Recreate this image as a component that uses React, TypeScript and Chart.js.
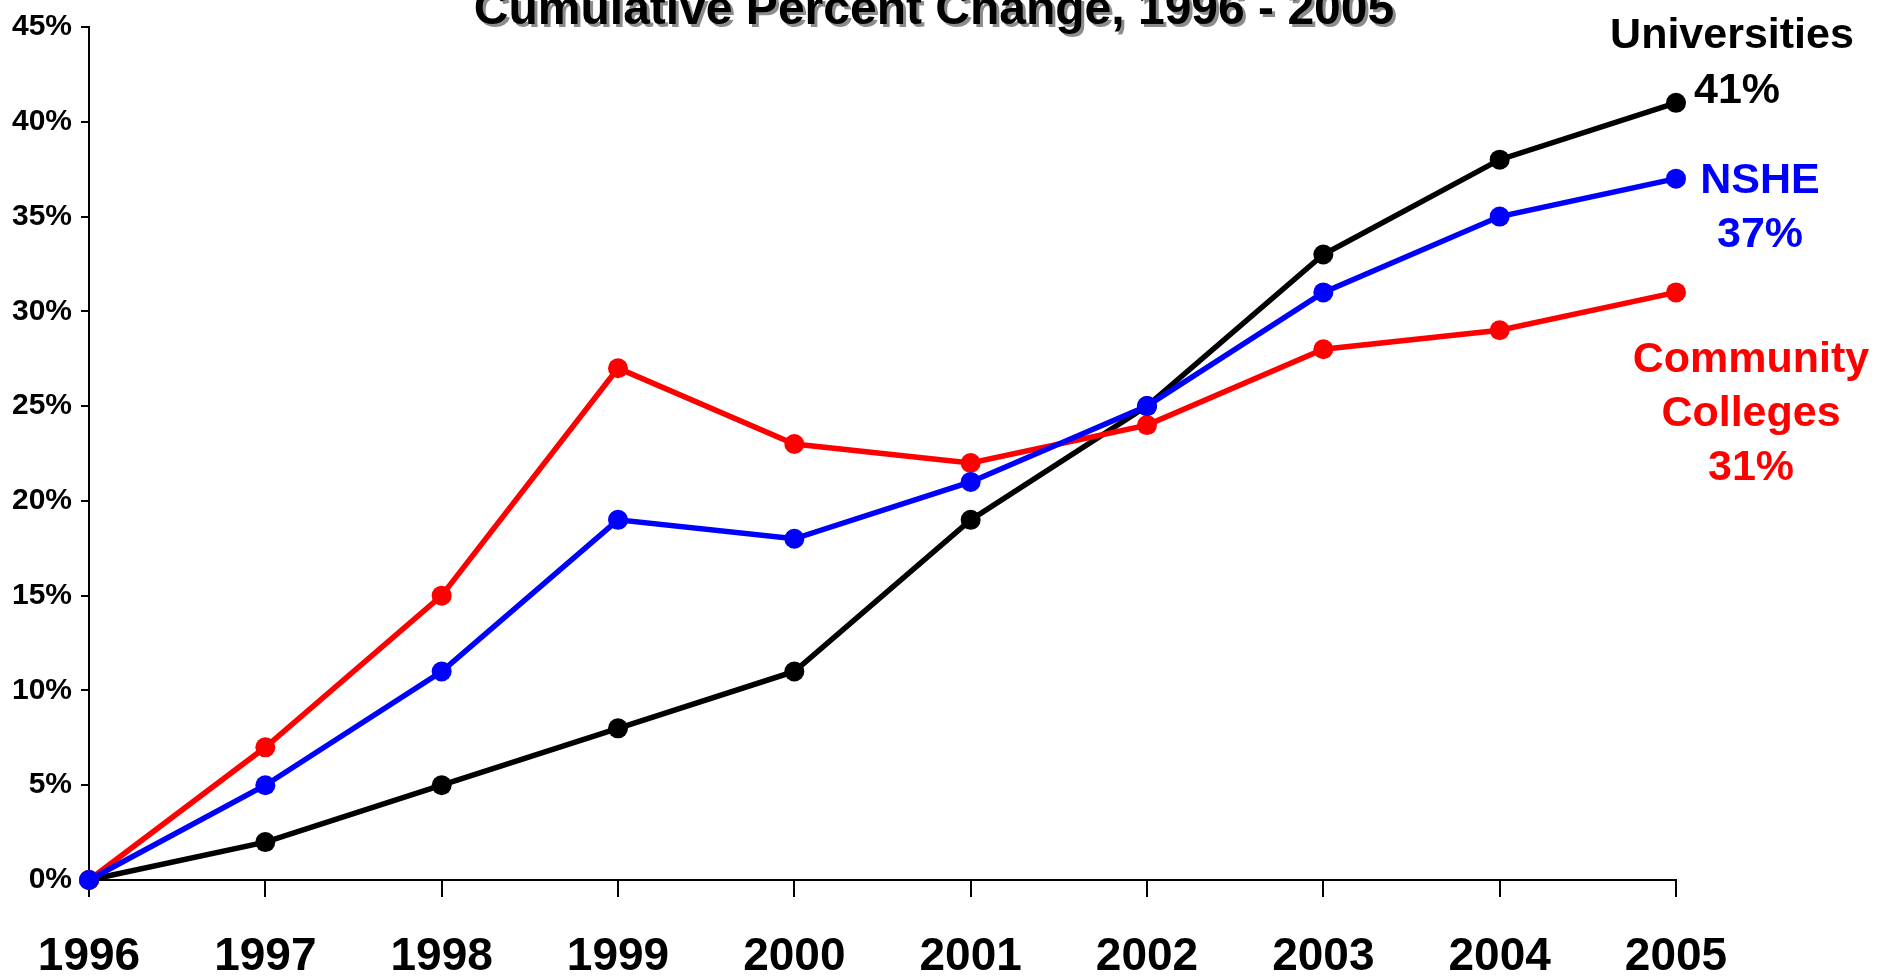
import React, { useEffect, useRef } from "react";
import { Chart, registerables } from "chart.js";

Chart.register(...registerables);

const years = ["1996", "1997", "1998", "1999", "2000", "2001", "2002", "2003", "2004", "2005"];
const universities = [0, 2, 5, 8, 11, 19, 25, 33, 38, 41];
const nshe = [0, 5, 11, 19, 18, 21, 25, 31, 35, 37];
const communityColleges = [0, 7, 15, 27, 23, 22, 24, 28, 29, 31];
const yMin = 0;
const yMax = 45;
const yStep = 5;
const titleText = "Cumulative Percent Change, 1996 - 2005";

const FONT = '"Liberation Sans", Arial, Helvetica, sans-serif';

// End labels anchored to the last data point of each series
const endLabels = [
  { lines: ["Universities"], color: "#000000", value: 41, dx: 56, dy: -67, lh: 54, align: "center" },
  { lines: ["41%"], color: "#000000", value: 41, dx: 18, dy: -12, lh: 54, align: "left" },
  { lines: ["NSHE", "37%"], color: "#0000FF", value: 37, dx: 84, dy: 2, lh: 54, align: "center" },
  { lines: ["Community", "Colleges", "31%"], color: "#FF0000", value: 31, dx: 75, dy: 68, lh: 54, align: "center" },
];

const overlayPlugin = {
  id: "overlay",
  afterDraw(chart: any) {
    const ctx = chart.ctx;
    const xs = chart.scales.x;
    const ys = chart.scales.y;
    ctx.save();
    ctx.font = `bold 48px ${FONT}`;
    ctx.textAlign = "center";
    ctx.textBaseline = "alphabetic";
    ctx.shadowColor = "rgba(0,0,0,0.45)";
    ctx.shadowOffsetX = 3;
    ctx.shadowOffsetY = 3;
    ctx.shadowBlur = 0;
    ctx.fillStyle = "#000";
    ctx.fillText(titleText, 934, 24);
    ctx.restore();

    ctx.save();
    ctx.font = `bold 43px ${FONT}`;
    ctx.textBaseline = "middle";
    const lastX = xs.getPixelForValue(years.length - 1);
    endLabels.forEach((l) => {
      ctx.fillStyle = l.color;
      ctx.textAlign = l.align;
      const y0 = ys.getPixelForValue(l.value) + l.dy;
      l.lines.forEach((t, i) => {
        ctx.fillText(t, lastX + l.dx, y0 + i * l.lh);
      });
    });
    ctx.restore();
  },
};

export default function App() {
  const ref = useRef<HTMLCanvasElement | null>(null);
  useEffect(() => {
    if (!ref.current) return;
    const ds = (label: string, data: number[], color: string, order: number) => ({
      label,
      data,
      borderColor: color,
      backgroundColor: color,
      pointBackgroundColor: color,
      pointBorderColor: color,
      pointBorderWidth: 0,
      pointRadius: 10,
      borderWidth: 5.5,
      tension: 0,
      clip: false,
      order,
    });
    const chart = new Chart(ref.current, {
      type: "line",
      data: {
        labels: years,
        datasets: [
          ds("Universities", universities, "#000000", 3),
          ds("Community Colleges", communityColleges, "#FF0000", 2),
          ds("NSHE", nshe, "#0000FF", 1),
        ],
      },
      options: {
        responsive: false,
        animation: false,
        layout: { padding: { left: 0, right: 212, top: 22, bottom: 0 } },
        plugins: {
          legend: { display: false },
          title: { display: false },
          tooltip: { enabled: false },
        },
        scales: {
          x: {
            type: "category",
            offset: false,
            afterFit(scale: any) {
              scale.height = 97;
            },
            grid: {
              display: true,
              drawOnChartArea: false,
              drawTicks: true,
              tickLength: 17,
              color: "#000",
              lineWidth: 2,
            },
            border: { display: true, color: "#000", width: 2 },
            ticks: {
              color: "#000",
              font: { family: FONT, size: 46, weight: "bold" },
              padding: 33,
              maxRotation: 0,
              autoSkip: false,
            },
          },
          y: {
            min: yMin,
            max: yMax,
            afterFit(scale: any) {
              scale.width = 89;
            },
            grid: {
              display: true,
              drawOnChartArea: false,
              drawTicks: true,
              tickLength: 8,
              color: "#000",
              lineWidth: 2,
            },
            border: { display: true, color: "#000", width: 2 },
            ticks: {
              stepSize: yStep,
              color: "#000",
              font: { family: FONT, size: 30, weight: "bold" },
              padding: 9,
              callback: (v: any) => `${v}%`,
            },
          },
        },
      },
      plugins: [overlayPlugin],
    });
    return () => chart.destroy();
  }, []);
  return (
    <div style={{ position: "fixed", left: 0, top: 0, width: 1888, height: 977, background: "#fff" }}>
      <canvas ref={ref} width={1888} height={977} style={{ display: "block" }} />
    </div>
  );
}
